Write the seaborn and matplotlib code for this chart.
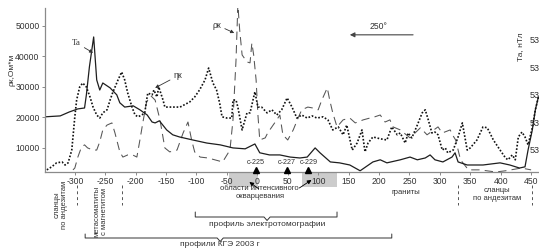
import matplotlib
matplotlib.use("Agg")
import matplotlib.pyplot as plt
import matplotlib.transforms as mtransforms
from matplotlib.patches import Rectangle
import seaborn as sns

sns.set_theme(style="white")
plt.rcParams["font.family"] = ["Liberation Sans", "DejaVu Sans"]
plt.rcParams["axes.unicode_minus"] = False

# --- profile data (x in m along profile) ---
ta_x = [-349, -324, -309, -295, -284, -281, -276, -269, -264, -259, -254, -242,
        -231, -226, -218, -204, -193, -181, -173, -168, -161, -149, -139, -128,
        -106, -83, -61, -40, -20, -4, 4, 20, 37, 54, 70, 82, 95, 103, 120, 135,
        152, 169, 190, 202, 213, 235, 251, 263, 276, 284, 292, 305, 320, 325,
        330, 345, 371, 399, 415, 431, 440, 445, 452, 457, 462]
ta_y = [20200, 20500, 21800, 22800, 23100, 27400, 36600, 46400, 32300, 29000,
        31300, 29700, 27400, 24800, 23400, 23800, 22500, 20800, 18500, 18200,
        18900, 15900, 14300, 13600, 12600, 11600, 11000, 10000, 9700, 11300,
        8400, 7700, 7700, 7000, 6700, 7000, 10000, 8400, 5400, 5100, 4400, 2500,
        5400, 6100, 5100, 6100, 7000, 6100, 6700, 7700, 6100, 5400, 7000, 8400,
        5400, 4400, 4400, 5100, 4400, 3400, 3800, 9300, 15900, 22500, 26700]

eta_x = [-346, -338, -330, -321, -316, -311, -305, -303, -300, -297, -292, -287,
         -281, -275, -270, -264, -259, -254, -247, -242, -238, -229, -223, -218,
         -213, -206, -201, -196, -190, -185, -182, -180, -173, -170, -165, -162,
         -155, -152, -139, -127, -111, -103, -95, -86, -80, -73, -67, -62, -58,
         -50, -42, -40, -35, -32, -25, -17, -12, -4, 1, 7, 16, 24, 32, 40, 49,
         57, 65, 73, 82, 90, 98, 108, 116, 124, 133, 141, 147, 156, 164, 172,
         177, 182, 190, 202, 213, 221, 230, 235, 243, 248, 254, 263, 271, 276,
         281, 287, 292, 297, 304, 309, 313, 322, 330, 337, 345, 350, 361, 371,
         378, 388, 399, 408, 412, 419, 424, 429, 435, 440, 445, 452, 457, 462]
eta_y = [2800, 3800, 5100, 5400, 4400, 5100, 9300, 13600, 20200, 25700, 30000,
         31300, 30000, 26700, 23400, 20800, 19800, 21500, 22500, 25700, 28000,
         32300, 34900, 32300, 28000, 23400, 20800, 20200, 20800, 21500, 25700,
         28000, 27400, 29000, 26700, 30000, 25700, 23400, 23400, 23400, 25100,
         26700, 29000, 32300, 36200, 31300, 29000, 24800, 20200, 19800, 19800,
         25700, 25700, 23400, 15900, 21500, 21500, 28400, 23400, 23400, 21500,
         22500, 20800, 22500, 26400, 23400, 19800, 20800, 19800, 20500, 19800,
         20200, 19200, 15900, 16900, 14300, 17500, 9300, 11600, 15900, 8700,
         11600, 13600, 13000, 12600, 16900, 14300, 14900, 11600, 14900, 13300,
         17500, 21500, 22500, 19200, 14900, 15200, 14300, 9300, 10000, 8400,
         9300, 13600, 18200, 9300, 10000, 12600, 16900, 16600, 12600, 9300,
         6700, 6100, 7700, 6100, 13600, 15200, 13600, 11000, 16600, 22500, 26700]

rho_x = [-303, -300, -295, -289, -284, -279, -270, -264, -259, -254, -247, -239,
         -234, -226, -221, -213, -205, -198, -193, -188, -182, -175, -168, -160,
         -152, -144, -132, -122, -114, -108, -103, -94, -81, -70, -57, -45, -40,
         -35, -32, -29, -25, -17, -12, -9, -6, -2, 1, 4, 13, 17, 26, 32, 37, 42,
         50, 59, 67, 73, 83, 91, 100, 106, 115, 119, 124, 131, 141, 152, 161,
         174, 185, 193, 202, 210, 218, 223, 235, 251, 268, 279, 297, 304, 317,
         322, 326, 334, 347, 366, 392, 408, 434, 450]
rho_y = [2800, 3400, 7000, 10300, 11000, 10000, 9300, 9300, 12000, 15900, 17500,
         18200, 14900, 8700, 7000, 7700, 7700, 7000, 12600, 18500, 25100, 27100,
         25700, 19200, 10000, 8700, 9300, 14900, 18500, 12600, 8700, 7000, 6700,
         6100, 5400, 9300, 19200, 38900, 57000, 48700, 40500, 38200, 37900,
         44400, 40500, 32300, 20800, 12600, 13300, 14900, 17500, 19200, 20800,
         14300, 12600, 15900, 19800, 22500, 23400, 23100, 22500, 25700, 29700,
         25700, 21500, 16900, 19200, 19800, 18200, 19200, 19800, 20200, 20800,
         18500, 19200, 16900, 15900, 13300, 16600, 14300, 16900, 14900, 15900,
         13900, 12600, 6100, 2800, 2800, 2100, 2500, 3400, 2800]

y_ticks = [10000, 20000, 30000, 40000, 50000]
x_ticks = list(range(-300, 451, 50))
ta_ticks = [53000, 53100, 53200, 53300, 53400]

wells = ["с-225", "с-227", "с-229"]
wells_x = [-2, 48, 84]
quartz_zones = [(-47, 1), (73, 131)]
boundaries_x = [-296, -223, 330, 452]

TXT = "#333333"
SPINE = "#8a8a8a"

fig = plt.figure(figsize=(5.39, 2.5), dpi=100)
ax = fig.add_axes([45 / 539, 78 / 250, 494 / 539, 164 / 250])

sns.lineplot(x=rho_x, y=rho_y, ax=ax, sort=False, estimator=None,
             color="#555555", lw=0.75, linestyle=(0, (8, 5)))
sns.lineplot(x=ta_x, y=ta_y, ax=ax, sort=False, estimator=None,
             color="#1e1e1e", lw=0.9)
sns.lineplot(x=eta_x, y=eta_y, ax=ax, sort=False, estimator=None,
             color="#111111", lw=1.2, linestyle=(0, (1, 1.1)))

ax.set_xlim(-349, 463)
ax.set_ylim(2100, 55900)
ax.set_xticks(x_ticks)
ax.set_yticks(y_ticks)
ax.set_xlabel("")
ax.set_ylabel("")
for s in ["top", "right"]:
    ax.spines[s].set_visible(False)
for s in ["left", "bottom"]:
    ax.spines[s].set_color(SPINE)
    ax.spines[s].set_linewidth(0.9)
ax.tick_params(axis="both", labelsize=6.2, colors=TXT, length=2.5,
               width=0.7, pad=1.5, color=SPINE)
ax.tick_params(axis="y", direction="out", left=True)
ax.tick_params(axis="x", direction="out", bottom=True, length=2)

# right (Ta) axis, cut by the image border as in the source figure
ax2 = ax.twinx()
ax2.set_ylim(52920, 53516)
ax2.set_yticks(ta_ticks)
ax2.set_yticklabels([str(t) for t in ta_ticks])
ax2.spines["right"].set_position(("axes", 0.977))
for s in ax2.spines.values():
    s.set_visible(False)
ax2.tick_params(axis="y", length=0, pad=1.5, labelsize=6.5, colors=TXT)
ax2.grid(False)

bx = mtransforms.blended_transform_factory(ax.transData, fig.transFigure)
ba = mtransforms.blended_transform_factory(ax.transData, ax.transAxes)

fig.text(0.022, 0.72, "ρк,Ом*м", rotation=90, ha="center", va="center",
         fontsize=6, color=TXT)
fig.text(0.966, 0.812, "Та, нТл", rotation=90, ha="center", va="center",
         fontsize=6, color=TXT)

# curve labels
arrow_kw = dict(arrowstyle="-|>", color="#333333", lw=0.6, mutation_scale=5,
                shrinkA=0, shrinkB=0)
ax.annotate("Та", xy=(-270, 41200), xytext=(-297, 44400), fontsize=6.2,
            color=TXT, ha="center", va="center", family="Liberation Serif",
            arrowprops=arrow_kw)
ax.annotate("ηк", xy=(-168, 29700), xytext=(-131, 33600), fontsize=6.2,
            color=TXT, ha="center", va="center", arrowprops=arrow_kw)
ax.annotate("ρк", xy=(-38, 47700), xytext=(-66, 50300), fontsize=6.2,
            color=TXT, ha="center", va="center", arrowprops=arrow_kw)

# direction arrow
ax.annotate("", xy=(152, 47100), xytext=(256, 47100),
            arrowprops=dict(arrowstyle="-|>", color="#444444", lw=0.8,
                            mutation_scale=7, shrinkA=0, shrinkB=0))
ax.text(185, 49800, "250°", fontsize=6.2, color=TXT, ha="left", va="center")

# zones of silicification and wells
for x0, x1 in quartz_zones:
    ax.add_patch(Rectangle((x0, -0.091), x1 - x0, 0.091, transform=ba,
                           facecolor="#cccccc", edgecolor="none",
                           clip_on=False, zorder=0.5))
ax.plot(wells_x, [0.014] * len(wells_x), "^", color="black", ms=4.5,
        transform=ba, clip_on=False, zorder=5)
for name, wx in zip(wells, wells_x):
    ax.text(wx, 0.055, name, transform=ba, fontsize=5.2, color=TXT,
            ha="center", va="center")

ax.text(4, 0.228, "области интенсивного\nокварцевания", transform=bx,
        fontsize=5.5, color=TXT, ha="center", va="center", linespacing=1.2)
small_arrow = dict(arrowstyle="-|>", color="black", lw=0.6, mutation_scale=6,
                   shrinkA=0, shrinkB=0)
ax.annotate("", xy=(-13, 0.272), xytext=(2, 0.245), xycoords=bx,
            textcoords=bx, arrowprops=small_arrow)
ax.annotate("", xy=(89, 0.28), xytext=(69, 0.248), xycoords=bx,
            textcoords=bx, arrowprops=small_arrow)

# geological boundaries
for bxv in boundaries_x:
    ax.plot([bxv, bxv], [0.26, 0.18], transform=bx, color="#555555",
            lw=0.7, linestyle=(0, (3, 3)), clip_on=False)

ax.text(-323, 0.18, "сланцы\nпо андезитам", transform=bx, rotation=90,
        fontsize=5.5, color=TXT, ha="center", va="center", linespacing=1.1)
ax.text(-257, 0.156, "метасоматиты\nс магнетитом", transform=bx, rotation=90,
        fontsize=5.5, color=TXT, ha="center", va="center", linespacing=1.1)
ax.text(245, 0.232, "граниты", transform=bx, fontsize=5.5, color=TXT,
        ha="center", va="center")
ax.text(394, 0.22, "сланцы\nпо андезитам", transform=bx, fontsize=5.5,
        color=TXT, ha="center", va="center", linespacing=1.2)


# brackets
def bracket(x0, x1, xc, y_line, y_top, y_notch, label, y_label):
    ax.plot([x0, x0, xc - 5, xc, xc + 5, x1, x1],
            [y_top, y_line, y_line, y_notch, y_line, y_line, y_top],
            transform=bx, color="#333333", lw=0.7, clip_on=False)
    ax.text(xc, y_label, label, transform=bx, fontsize=6, color=TXT,
            ha="center", va="center")


bracket(-102, 131, 16, 0.132, 0.152, 0.118, "профиль электротомографии", 0.102)
bracket(-283, 221, -61, 0.048, 0.064, 0.034, "профили КГЭ 2003 г", 0.02)

fig.savefig("out.png", dpi=100)
